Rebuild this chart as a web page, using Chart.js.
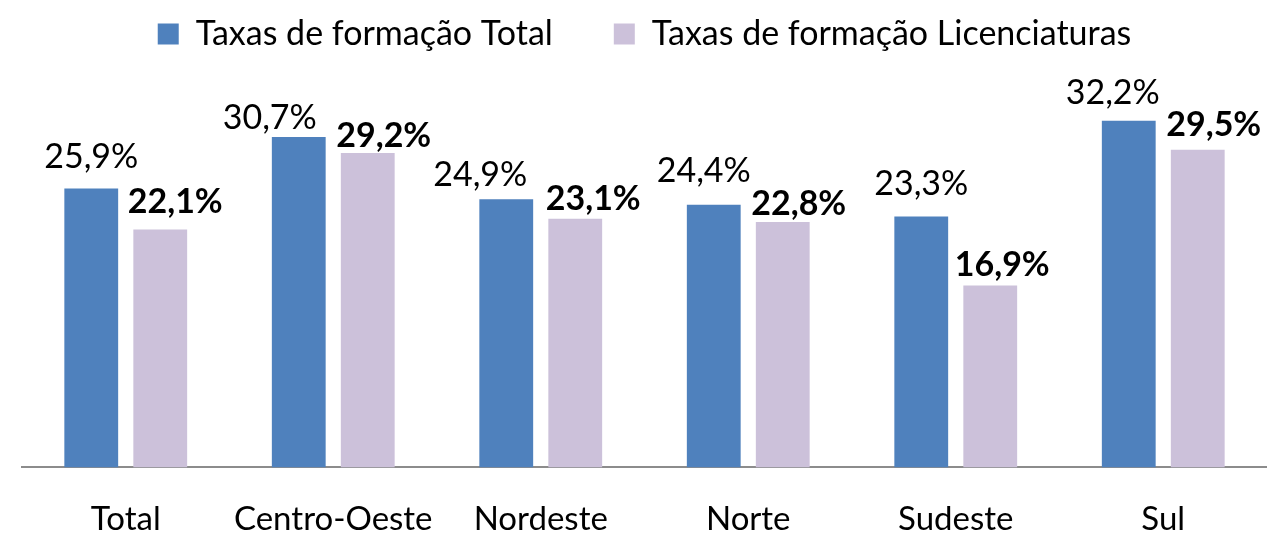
<!DOCTYPE html>
<html>
<head>
<meta charset="utf-8">
<script src="https://cdn.jsdelivr.net/npm/chart.js@4"></script>
<style>
  html, body { margin: 0; padding: 0; background: #fff; }
  #wrap { width: 1267px; height: 549px; }
</style>
</head>
<body>
<div id="wrap"><canvas id="chart"></canvas></div>
<script>
// taxas de formação por região

const regioes = ['Total', 'Centro-Oeste', 'Nordeste', 'Norte', 'Sudeste', 'Sul'];
const taxaTotal = [25.9, 30.7, 24.9, 24.4, 23.3, 32.2];
const taxaLicenciaturas = [22.1, 29.2, 23.1, 22.8, 16.9, 29.5];
const serieNomes = ['Taxas de formação Total', 'Taxas de formação Licenciaturas'];

// label placement tweaks (the original labels were moved by hand)
const labelDx = [[0, -29, -26, -10, 0, -16], [15, 16, 18, 16, 12, 16]];
const labelGap = [[21, 8, 13, 23, 22, 17], [16, 6, 9, 7, 9, 14]];

const fmt = v => v.toFixed(1).replace('.', ',') + '%';

/* draw the value labels above each bar */
const valueLabels = {
  id: 'valueLabels',
  afterDatasetsDraw(chart) {
    const ctx = chart.ctx;
    ctx.save();
    ctx.textAlign = 'center';
    ctx.textBaseline = 'alphabetic';
    ctx.fillStyle = '#000';
    chart.data.datasets.forEach((ds, i) => {
      ctx.font = (i === 1 ? 'bold ' : '') + '34px Lato';
      chart.getDatasetMeta(i).data.forEach((bar, j) => {
        ctx.fillText(fmt(ds.data[j]), bar.x + labelDx[i][j], bar.y - labelGap[i][j]);
      });
    });
    ctx.restore();
  }
};

new Chart(document.getElementById('chart'), {
  type: 'bar',
  data: {
    labels: regioes,
    datasets: [
      {
        label: serieNomes[0],
        data: taxaTotal,
        backgroundColor: '#4f81bd',
        categoryPercentage: 0.665,
        barPercentage: 0.78
      },
      {
        label: serieNomes[1],
        data: taxaLicenciaturas,
        backgroundColor: '#ccc1da',
        categoryPercentage: 0.665,
        barPercentage: 0.78
      }
    ]
  },
  options: {
    responsive: true,
    maintainAspectRatio: false,
    animation: false,
    layout: { padding: { left: 22, right: 0, top: -44, bottom: -14 } },
    plugins: {
      legend: {
        position: 'top',
        labels: {
          font: { family: 'Lato', size: 34 },
          color: '#000',
          boxWidth: 21,
          boxHeight: 21,
          padding: 61
        }
      },
      tooltip: { enabled: false }
    },
    scales: {
      x: {
        grid: { display: false },
        border: { display: true, color: '#8c8c8c', width: 2 },
        ticks: { font: { family: 'Lato', size: 33 }, color: '#000', padding: 24 }
      },
      y: {
        display: false,
        min: 0,
        max: 37.75
      }
    }
  },
  plugins: [valueLabels]
});
</script>
</body>
</html>
